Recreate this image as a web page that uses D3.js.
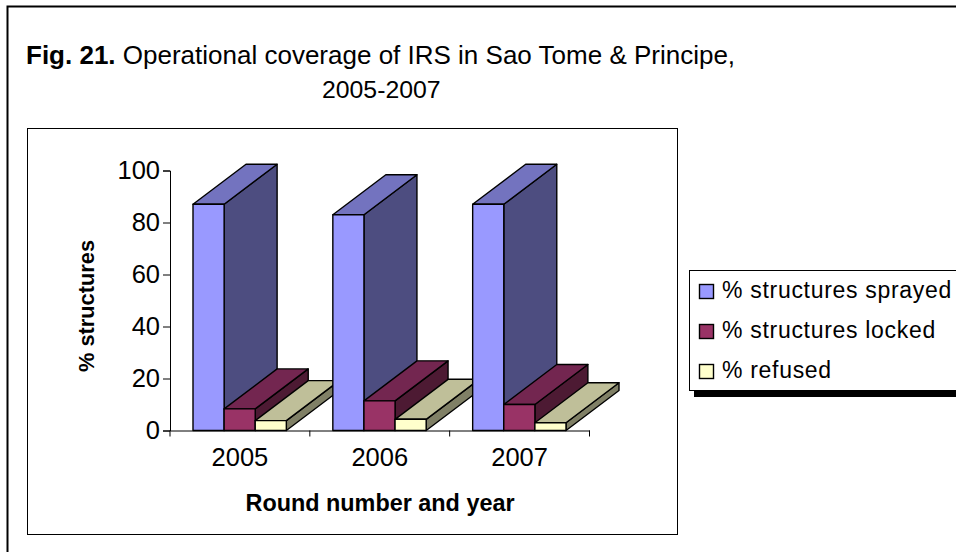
<!DOCTYPE html>
<html>
<head>
<meta charset="utf-8">
<script src="https://cdn.jsdelivr.net/npm/d3@7"></script>
<style>
  html, body { margin: 0; padding: 0; background: #fff; overflow: hidden; }
  text { font-family: "Liberation Sans", Arial, sans-serif; fill: #000; }
</style>
</head>
<body>
<div id="chart"></div>
<script>
const years = ["2005", "2006", "2007"];
const seriesNames = ["% structures sprayed", "% structures locked", "% refused"];
const sprayed = [87, 83, 87];
const locked = [8.3, 11.4, 10];
const refused = [3.8, 4.3, 3];
const yTicks = [0, 20, 40, 60, 80, 100];
const frontColors = ["#9999ff", "#993366", "#ffffcc"];
const topColors = ["#7373bf", "#732650", "#bfbf99"];
const sideColors = ["#4d4d80", "#4d1a33", "#808066"];

const width = 956;
const height = 552;
const depthX = 53;
const depthY = 40;

const svg = d3.select("#chart")
    .append("svg")
    .attr("width", width)
    .attr("height", height);

// Page frame, runs off the right and bottom edges
svg.append("path")
    .attr("d", `M7.5,${height} V6.5 H${width}`)
    .attr("fill", "none")
    .attr("stroke", "#000")
    .attr("stroke-width", 2);

// Chart area border
svg.append("rect")
    .attr("x", 27.5)
    .attr("y", 128.5)
    .attr("width", 650)
    .attr("height", 406)
    .attr("fill", "#fff")
    .attr("stroke", "#000");

// Title
const title = svg.append("text")
    .attr("x", 26)
    .attr("y", 64)
    .style("font-size", "26px");
title.append("tspan").style("font-weight", "bold").text("Fig. 21.");
title.append("tspan").text(" Operational coverage of IRS in Sao Tome & Principe,");
svg.append("text")
    .attr("x", 322)
    .attr("y", 98)
    .style("font-size", "24.8px")
    .text("2005-2007");

const xScale = d3.scaleBand()
    .domain(years)
    .range([170, 589.5]);

const barScale = d3.scaleBand()
    .domain(seriesNames)
    .range([23, xScale.bandwidth() - 23.5]);

const yScale = d3.scaleLinear()
    .domain([0, 100])
    .range([430.5, 170.5]);

// Draw a 3D bar: top and side faces pushed back by the depth offset
function drawBar(g, x, w, value, s) {
    const y0 = yScale(0);
    const y1 = yScale(value);
    const faces = [
        [[x + w, y1], [x + w + depthX, y1 - depthY], [x + w + depthX, y0 - depthY], [x + w, y0], sideColors[s]],
        [[x, y1], [x + depthX, y1 - depthY], [x + w + depthX, y1 - depthY], [x + w, y1], topColors[s]],
        [[x, y1], [x + w, y1], [x + w, y0], [x, y0], frontColors[s]]
    ];
    faces.forEach(f => {
        g.append("polygon")
            .attr("points", f.slice(0, 4).map(p => p.join(",")).join(" "))
            .attr("fill", f[4])
            .attr("stroke", "#000")
            .attr("stroke-width", 1.4)
            .attr("stroke-linejoin", "round");
    });
}

// Axes go under the bars
const axisY = svg.append("g")
    .attr("transform", "translate(170, 0)")
    .call(d3.axisLeft(yScale).tickValues(yTicks).tickSize(7).tickPadding(3).tickFormat(d3.format("d")));
axisY.selectAll("text").style("font-size", "25.5px");

const axisX = svg.append("g")
    .attr("transform", `translate(0, ${yScale(0)})`)
    .call(d3.axisBottom(xScale).tickValues([]).tickSize(0));
axisX.selectAll("line.sep")
    .data(d3.range(years.length + 1))
    .enter()
    .append("line")
    .attr("class", "sep")
    .attr("x1", i => 170 + i * xScale.step())
    .attr("x2", i => 170 + i * xScale.step())
    .attr("y1", 0)
    .attr("y2", 6)
    .attr("stroke", "#000");
axisX.selectAll("text.year")
    .data(years)
    .enter()
    .append("text")
    .attr("class", "year")
    .attr("x", d => xScale(d) + xScale.bandwidth() / 2)
    .attr("y", 35)
    .attr("text-anchor", "middle")
    .style("font-size", "25.5px")
    .text(d => d);

const bars = svg.append("g");
const values = [sprayed, locked, refused];
years.forEach((year, i) => {
    seriesNames.forEach((name, s) => {
        drawBar(bars, xScale(year) + barScale(name), barScale.bandwidth(), values[s][i], s);
    });
});

// Axis labels
svg.append("text")
    .attr("transform", "translate(94, 306) rotate(-90)")
    .attr("text-anchor", "middle")
    .style("font-size", "21.8px")
    .style("font-weight", "bold")
    .text("% structures");
svg.append("text")
    .attr("x", 380)
    .attr("y", 510.5)
    .attr("text-anchor", "middle")
    .style("font-size", "23.4px")
    .style("font-weight", "bold")
    .text("Round number and year");

// Legend box with a hard shadow, cut off by the page edge
svg.append("rect")
    .attr("x", 694)
    .attr("y", 390)
    .attr("width", width - 694)
    .attr("height", 7)
    .attr("fill", "#000");
svg.append("rect")
    .attr("x", 689.5)
    .attr("y", 270.5)
    .attr("width", 300)
    .attr("height", 120)
    .attr("fill", "#fff")
    .attr("stroke", "#000");

const legendY = d3.scalePoint()
    .domain(seriesNames)
    .range([291, 371]);
const legend = svg.append("g")
    .selectAll("g")
    .data(seriesNames)
    .enter()
    .append("g")
    .attr("transform", d => `translate(699, ${legendY(d)})`);
legend.append("rect")
    .attr("x", 0.5)
    .attr("y", -6.5)
    .attr("width", 14)
    .attr("height", 14)
    .attr("fill", (d, i) => frontColors[i])
    .attr("stroke", "#000")
    .attr("stroke-width", 1.4);
legend.append("text")
    .attr("x", 23)
    .attr("y", 7)
    .style("font-size", "23px")
    .style("letter-spacing", "0.7px")
    .text(d => d);
</script>
</body>
</html>
